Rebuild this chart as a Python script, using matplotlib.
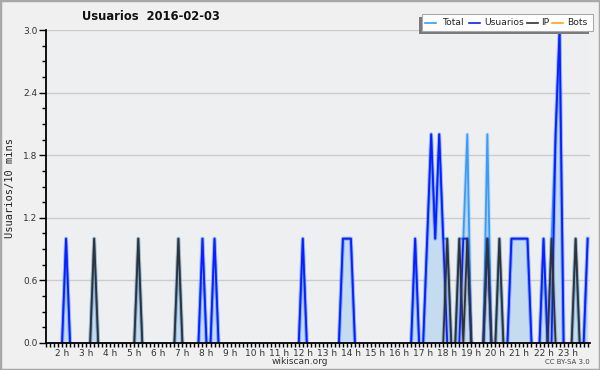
import matplotlib
matplotlib.use("Agg")
import matplotlib.pyplot as plt
from matplotlib.patches import Rectangle
from matplotlib.lines import Line2D
import numpy as np

# serie cada 10 minutos, de 01:20 a 23:50
inicio = "01:20"
fin = "23:50"

# valores distintos de cero (hora -> valor)
usuarios_horas = ["02:10", "07:50", "08:20", "12:00", "13:40", "13:50", "14:00",
                  "16:40", "17:10", "17:20", "17:30", "17:40", "17:50",
                  "18:40", "18:50", "19:40", "20:40", "20:50", "21:00", "21:10",
                  "21:20", "22:00", "22:30", "22:40", "23:50"]
usuarios_vals = [1, 1, 1, 1, 1, 1, 1,
                 1, 1, 2, 1, 2, 1,
                 1, 1, 1, 1, 1, 1, 1,
                 1, 1, 2, 3, 1]

ip_horas = ["03:20", "05:10", "06:50", "18:00", "18:30", "18:50", "19:40",
            "20:10", "22:20", "23:20"]
ip_vals = [1, 1, 1, 1, 1, 1, 1, 1, 1, 1]

bots_horas = []
bots_vals = []

horas_ticks = list(range(2, 24))


def a_horas(s):
    h, m = s.split(":")
    return int(h) + int(m) / 60.0


t0, t1 = a_horas(inicio), a_horas(fin)
n = int(round((t1 - t0) * 6)) + 1
t = t0 + np.arange(n) / 6.0


def serie(horas, vals):
    y = np.zeros(n)
    for h, v in zip(horas, vals):
        y[int(round((a_horas(h) - t0) * 6))] = v
    return y


def sin_base(y):
    # oculta los tramos planos en cero (quedan bajo el eje)
    nz = y != 0
    keep = nz.copy()
    keep[1:] |= nz[:-1]
    keep[:-1] |= nz[1:]
    return np.ma.masked_where(~keep, y)


usuarios = serie(usuarios_horas, usuarios_vals)
ip = serie(ip_horas, ip_vals)
bots = serie(bots_horas, bots_vals)
total = usuarios + ip + bots

W, H = 600, 370
fig = plt.figure(figsize=(6, 3.7), dpi=100, facecolor="#f0f0f0")
fig.patches.append(Rectangle((0, 0), 1, 1, transform=fig.transFigure,
                             fill=False, edgecolor="#a8a8a8", linewidth=2.5))

L, R, T, B = 46, 590, 30, 343
ax = fig.add_axes([L / W, 1 - B / H, (R - L) / W, (B - T) / H])
ax.set_facecolor("#edeff1")

c_total = "#3a9cf5"
c_usu = "#0a1eff"
c_ip = "#2e3338"
c_bots = "#ffa21a"

ax.fill_between(t, 0, total, color="#c5dcf0", zorder=1, linewidth=0)
# halo suave como en el original
for y, c, z in [(total, c_total, 3), (usuarios, c_usu, 4), (ip, c_ip, 5)]:
    ax.plot(t, sin_base(y), color=c, lw=2.8, alpha=0.22, zorder=z)
ax.plot(t, sin_base(total), color=c_total, lw=1.3, zorder=3)
ax.plot(t, sin_base(usuarios), color=c_usu, lw=1.3, zorder=4)
ax.plot(t, sin_base(ip), color=c_ip, lw=1.3, zorder=5)
ax.plot(t, sin_base(bots), color=c_bots, lw=1.3, zorder=2)

ax.set_xlim(t0 + 0.005, 23.93)
ax.set_ylim(0, 3.0)
ax.set_yticks([0, 0.6, 1.2, 1.8, 2.4, 3.0])
ax.set_yticklabels(["0.0", "0.6", "1.2", "1.8", "2.4", "3.0"])
ax.set_yticks(np.arange(0, 3.01, 0.15), minor=True)
ax.grid(axis="y", color="#cccccc", linewidth=1, zorder=0)
ax.set_axisbelow(True)

ax.set_xticks(horas_ticks)
ax.set_xticklabels([f"{h} h" for h in horas_ticks])
ax.set_xticks(t, minor=True)

ax.tick_params(axis="y", which="major", length=5, width=1, direction="out",
               labelsize=6.5, labelcolor="#333333", pad=1)
ax.tick_params(axis="y", which="minor", length=3, width=1, direction="out")
ax.tick_params(axis="x", which="both", length=3, width=1, direction="out",
               labelsize=6.5, labelcolor="#333333", pad=1)

for s in ["top", "right"]:
    ax.spines[s].set_visible(False)
for s in ["left", "bottom"]:
    ax.spines[s].set_linewidth(1.3)
    ax.spines[s].set_zorder(10)


def px(x, y):
    return x / W, 1 - y / H


fig.text(*px(10, 188), "Usuarios/10 mins", family="DejaVu Sans Mono", fontsize=7.5,
         color="#222222", rotation=90, ha="center", va="center")
fig.text(*px(151, 17), "Usuarios  2016-02-03", ha="center", va="center",
         fontsize=8.3, fontweight="bold", color="#111111")
fig.text(*px(300, 361), "wikiscan.org", ha="center", va="center",
         fontsize=6.5, color="#333333")
fig.text(*px(590, 362), "CC BY-SA 3.0", ha="right", va="center",
         fontsize=5, color="#444444")

# leyenda
fig.patches.append(Rectangle(px(419, 34), 170 / W, 17 / H, transform=fig.transFigure,
                             facecolor="#7a7a7a", edgecolor="none", zorder=20))
fig.patches.append(Rectangle(px(422, 31), 171 / W, 17 / H, transform=fig.transFigure,
                             facecolor="white", edgecolor="#aaaaaa", linewidth=0.8,
                             zorder=21))
items = [("Total", c_total, 425, 443), ("Usuarios", c_usu, 469, 484),
         ("IP", c_ip, 527, 541), ("Bots", c_bots, 552, 567)]
for lab, col, x0, xt in items:
    fig.lines.append(Line2D([x0 / W, (x0 + 11) / W], [1 - 22.5 / H] * 2,
                            transform=fig.transFigure, color=col, lw=1.2,
                            zorder=22))
    fig.text(xt / W, 1 - 22.5 / H, lab, ha="left", va="center", fontsize=6.6,
             color="#222222", zorder=23)

fig.savefig("out.png", dpi=100, facecolor=fig.get_facecolor())
